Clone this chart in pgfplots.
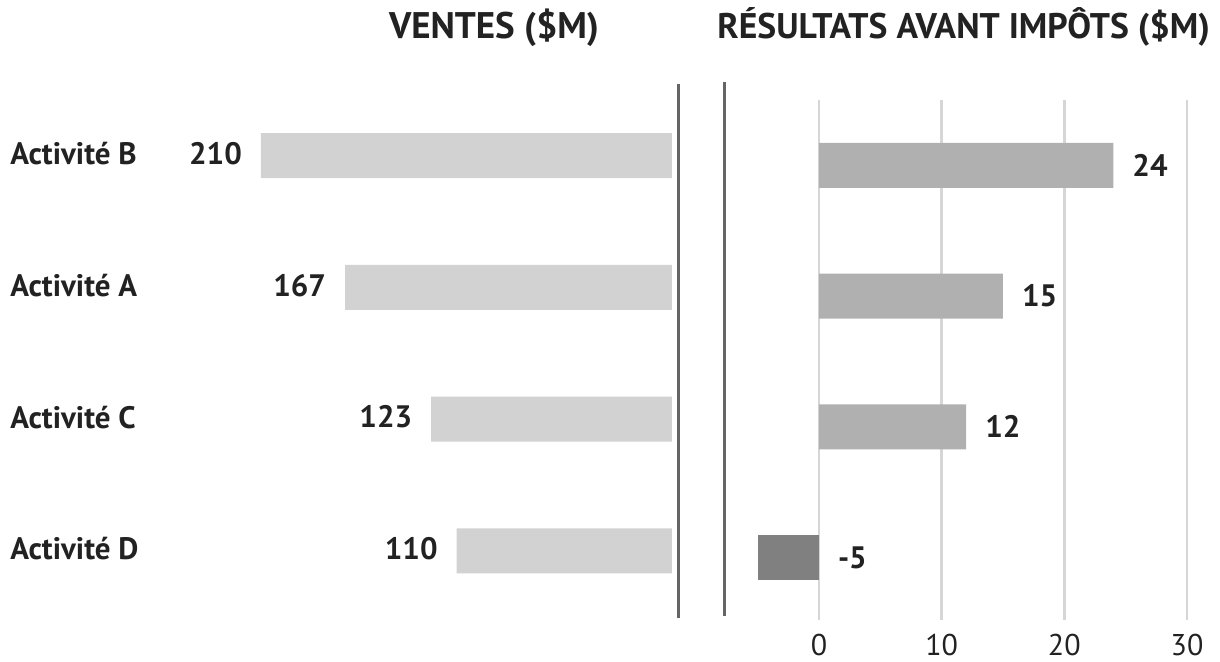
\documentclass[border=0pt]{standalone}
\usepackage{pgfplots}
\pgfplotsset{compat=1.18}
\usepackage{fontspec}
\setmainfont{PT Sans}
\definecolor{barL}{HTML}{D2D2D2}
\definecolor{barR}{HTML}{B0B0B0}
\definecolor{barN}{HTML}{808080}
\definecolor{axl}{HTML}{656565}
\definecolor{grd}{HTML}{D6D6D6}
\definecolor{txt}{HTML}{222222}
\begin{document}
\begin{tikzpicture}[x=1pt,y=1pt]
\path[use as bounding box] (0,0) rectangle (610,331);
\node[anchor=base, inner sep=0pt, font=\bfseries\fontsize{18.5}{22}\selectfont, text=txt] at (247,311.5) {VENTES (\$M)};
\node[anchor=base west, inner sep=0pt, font=\bfseries\fontsize{17.8}{22}\selectfont, text=txt] at (358.5,311.5) {RÉSULTATS AVANT IMPÔTS (\$M)};
\begin{axis}[at={(125pt,23.5pt)}, anchor=south west, scale only axis,
  width=211pt, height=265pt,
  xmin=0, xmax=215.6, x dir=reverse,
  ymin=-0.535, ymax=3.486, y dir=reverse,
  axis line style={draw=none}, xtick=\empty,
  ytick={0,1,2,3},
  yticklabels={Activité B, Activité A, Activité C, Activité D},
  major tick length=0pt,
  yticklabel style={anchor=west, inner sep=0pt, xshift=-120pt, yshift=1pt, font=\bfseries\fontsize{15.5}{18}\selectfont, text=txt},
  /pgf/number format/assume math mode=true,
  bar width=22.5pt, clip=false]
\addplot[xbar, bar shift=0pt, fill=barL, draw=none,
  nodes near coords,
  every node near coord/.style={anchor=east, xshift=-6pt, yshift=1pt, font=\bfseries\fontsize{15.5}{18}\selectfont, text=txt}]
  coordinates {(210,0) (167,1) (123,2) (110,3)};
\end{axis}
\draw[axl, line width=1.5pt] (339,22) -- (339,289);
\draw[axl, line width=1.5pt] (362,23) -- (362,290);
\begin{axis}[at={(362pt,21pt)}, anchor=south west, scale only axis,
  width=231.5pt, height=260pt,
  xmin=-7.74, xmax=30,
  ymin=-0.501, ymax=3.478, y dir=reverse,
  axis line style={draw=none}, ytick=\empty,
  xtick={0,10,20,30},
  xmajorgrids, grid style={grd, line width=1.2pt},
  major tick length=0pt,
  xticklabel style={font=\fontsize{15}{18}\selectfont, text=txt, yshift=-3.5pt},
  /pgf/number format/assume math mode=true,
  bar width=22.5pt, clip=false]
\addplot[xbar, bar shift=0pt, fill=barR, draw=none] coordinates {(24,0) (15,1) (12,2)};
\addplot[xbar, bar shift=0pt, fill=barN, draw=none] coordinates {(-5,3)};
\addplot[draw=none, mark=none, nodes near coords, point meta=explicit symbolic,
  every node near coord/.style={anchor=west, xshift=6pt, font=\bfseries\fontsize{15.5}{18}\selectfont, text=txt}]
  coordinates {(24,0)[24] (15,1)[15] (12,2)[12] (0,3)[-5]};
\end{axis}
\end{tikzpicture}
\end{document}
